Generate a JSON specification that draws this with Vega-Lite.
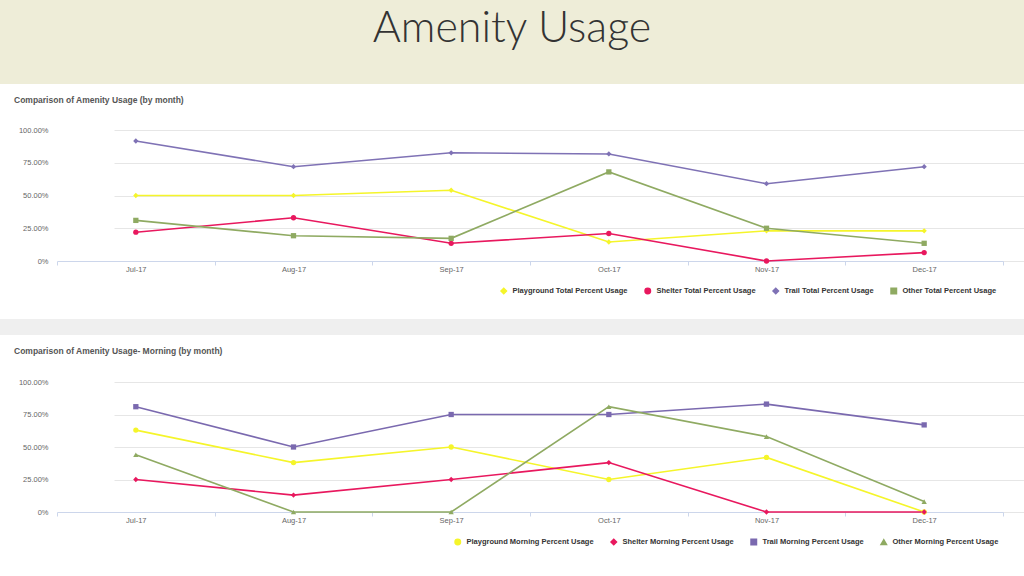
{
  "$schema": "https://vega.github.io/schema/vega-lite/v6.json",
  "padding": 0,
  "background": "#ffffff",
  "spacing": 11,
  "columns": 1,
  "align": "none",
  "resolve": {
    "scale": {"color": "independent", "shape": "independent", "y": "independent", "x": "independent"},
    "legend": {"color": "independent", "shape": "independent"}
  },
  "datasets": {
    "total": [
      {"month": "Jul-17", "series": "Playground Total Percent Usage", "value": 50},
      {"month": "Aug-17", "series": "Playground Total Percent Usage", "value": 50},
      {"month": "Sep-17", "series": "Playground Total Percent Usage", "value": 54},
      {"month": "Oct-17", "series": "Playground Total Percent Usage", "value": 14.5},
      {"month": "Nov-17", "series": "Playground Total Percent Usage", "value": 23},
      {"month": "Dec-17", "series": "Playground Total Percent Usage", "value": 23},
      {"month": "Jul-17", "series": "Shelter Total Percent Usage", "value": 22},
      {"month": "Aug-17", "series": "Shelter Total Percent Usage", "value": 33},
      {"month": "Sep-17", "series": "Shelter Total Percent Usage", "value": 13.5},
      {"month": "Oct-17", "series": "Shelter Total Percent Usage", "value": 21},
      {"month": "Nov-17", "series": "Shelter Total Percent Usage", "value": 0},
      {"month": "Dec-17", "series": "Shelter Total Percent Usage", "value": 6.4},
      {"month": "Jul-17", "series": "Trail Total Percent Usage", "value": 91.6},
      {"month": "Aug-17", "series": "Trail Total Percent Usage", "value": 72},
      {"month": "Sep-17", "series": "Trail Total Percent Usage", "value": 82.6},
      {"month": "Oct-17", "series": "Trail Total Percent Usage", "value": 81.7},
      {"month": "Nov-17", "series": "Trail Total Percent Usage", "value": 59},
      {"month": "Dec-17", "series": "Trail Total Percent Usage", "value": 72},
      {"month": "Jul-17", "series": "Other Total Percent Usage", "value": 31},
      {"month": "Aug-17", "series": "Other Total Percent Usage", "value": 19.3},
      {"month": "Sep-17", "series": "Other Total Percent Usage", "value": 17.3},
      {"month": "Oct-17", "series": "Other Total Percent Usage", "value": 68},
      {"month": "Nov-17", "series": "Other Total Percent Usage", "value": 25},
      {"month": "Dec-17", "series": "Other Total Percent Usage", "value": 13.5}
    ],
    "morning": [
      {"month": "Jul-17", "series": "Playground Morning Percent Usage", "value": 63},
      {"month": "Aug-17", "series": "Playground Morning Percent Usage", "value": 38},
      {"month": "Sep-17", "series": "Playground Morning Percent Usage", "value": 50},
      {"month": "Oct-17", "series": "Playground Morning Percent Usage", "value": 25},
      {"month": "Nov-17", "series": "Playground Morning Percent Usage", "value": 42},
      {"month": "Dec-17", "series": "Playground Morning Percent Usage", "value": 0},
      {"month": "Jul-17", "series": "Shelter Morning Percent Usage", "value": 25},
      {"month": "Aug-17", "series": "Shelter Morning Percent Usage", "value": 13},
      {"month": "Sep-17", "series": "Shelter Morning Percent Usage", "value": 25},
      {"month": "Oct-17", "series": "Shelter Morning Percent Usage", "value": 38},
      {"month": "Nov-17", "series": "Shelter Morning Percent Usage", "value": 0},
      {"month": "Dec-17", "series": "Shelter Morning Percent Usage", "value": 0},
      {"month": "Jul-17", "series": "Trail Morning Percent Usage", "value": 81},
      {"month": "Aug-17", "series": "Trail Morning Percent Usage", "value": 50},
      {"month": "Sep-17", "series": "Trail Morning Percent Usage", "value": 75},
      {"month": "Oct-17", "series": "Trail Morning Percent Usage", "value": 75},
      {"month": "Nov-17", "series": "Trail Morning Percent Usage", "value": 83},
      {"month": "Dec-17", "series": "Trail Morning Percent Usage", "value": 67},
      {"month": "Jul-17", "series": "Other Morning Percent Usage", "value": 44},
      {"month": "Aug-17", "series": "Other Morning Percent Usage", "value": 0},
      {"month": "Sep-17", "series": "Other Morning Percent Usage", "value": 0},
      {"month": "Oct-17", "series": "Other Morning Percent Usage", "value": 81},
      {"month": "Nov-17", "series": "Other Morning Percent Usage", "value": 58},
      {"month": "Dec-17", "series": "Other Morning Percent Usage", "value": 8}
    ]
  },
  "concat": [
    {
      "width": 1024,
      "height": 84,
      "view": {"fill": "#EEEDD8", "stroke": null},
      "data": {"values": [{"label": "Amenity Usage"}]},
      "mark": {"type": "text", "font": "Lato", "fontWeight": 300, "fontSize": 43, "color": "#333333", "dy": -13, "baseline": "middle", "align": "center"},
      "encoding": {"text": {"field": "label", "type": "nominal"}}
    },
    {
      "width": 1024,
      "height": 131,
      "title": {"text": "Comparison of Amenity Usage (by month)", "anchor": "start", "frame": "group", "dx": 14, "offset": 22, "fontSize": 8.5, "fontWeight": "bold", "color": "#555555", "font": "Liberation Sans"},
      "data": {"name": "total"},
      "encoding": {
        "x": {"field": "month", "type": "ordinal", "sort": ["Jul-17", "Aug-17", "Sep-17", "Oct-17", "Nov-17", "Dec-17"], "scale": {"type": "band", "paddingInner": 0, "paddingOuter": 0, "range": [57, 1003]}},
        "y": {"field": "value", "type": "quantitative", "scale": {"domain": [0, 100], "nice": false}, "axis": {"values": [0, 25, 50, 75, 100]}},
        "color": {"field": "series", "type": "nominal",
          "scale": {"domain": ["Playground Total Percent Usage", "Shelter Total Percent Usage", "Trail Total Percent Usage", "Other Total Percent Usage"], "range": ["#F5F52A", "#E8185E", "#7F72B5", "#8FAA62"]},
          "legend": {"orient": "none", "legendX": 489, "legendY": 146, "padding": 11, "direction": "horizontal", "columns": 4, "title": null}}
      },
      "layer": [
        {"mark": {"type": "line", "strokeWidth": 1.6}},
        {"mark": {"type": "point", "filled": true, "size": 28, "opacity": 1},
         "encoding": {"shape": {"field": "series", "type": "nominal",
           "scale": {"domain": ["Playground Total Percent Usage", "Shelter Total Percent Usage", "Trail Total Percent Usage", "Other Total Percent Usage"], "range": ["diamond", "circle", "diamond", "square"]},
           "legend": {"orient": "none", "legendX": 489, "legendY": 146, "padding": 11, "direction": "horizontal", "columns": 4, "title": null}}}}
      ]
    },
    {
      "width": 1024,
      "height": 16,
      "view": {"fill": "#EFEFEF", "stroke": null},
      "data": {"values": [{"label": ""}]},
      "mark": {"type": "text"},
      "encoding": {"text": {"field": "label", "type": "nominal"}}
    },
    {
      "width": 1024,
      "height": 130,
      "title": {"text": "Comparison of Amenity Usage- Morning (by month)", "anchor": "start", "frame": "group", "dx": 14, "offset": 23, "fontSize": 8.5, "fontWeight": "bold", "color": "#555555", "font": "Liberation Sans"},
      "data": {"name": "morning"},
      "encoding": {
        "x": {"field": "month", "type": "ordinal", "sort": ["Jul-17", "Aug-17", "Sep-17", "Oct-17", "Nov-17", "Dec-17"], "scale": {"type": "band", "paddingInner": 0, "paddingOuter": 0, "range": [57, 1003]}},
        "y": {"field": "value", "type": "quantitative", "scale": {"domain": [0, 100], "nice": false}, "axis": {"values": [0, 25, 50, 75, 100]}},
        "color": {"field": "series", "type": "nominal",
          "scale": {"domain": ["Playground Morning Percent Usage", "Shelter Morning Percent Usage", "Trail Morning Percent Usage", "Other Morning Percent Usage"], "range": ["#F5F52A", "#E8185E", "#7A69AF", "#8FAA62"]},
          "legend": {"orient": "none", "legendX": 443, "legendY": 145, "padding": 11, "direction": "horizontal", "columns": 4, "title": null}}
      },
      "layer": [
        {"mark": {"type": "line", "strokeWidth": 1.6}},
        {"mark": {"type": "point", "filled": true, "size": 28, "opacity": 1},
         "encoding": {"shape": {"field": "series", "type": "nominal",
           "scale": {"domain": ["Playground Morning Percent Usage", "Shelter Morning Percent Usage", "Trail Morning Percent Usage", "Other Morning Percent Usage"], "range": ["circle", "diamond", "square", "triangle-up"]},
           "legend": {"orient": "none", "legendX": 443, "legendY": 145, "padding": 11, "direction": "horizontal", "columns": 4, "title": null}}}}
      ]
    }
  ],
  "config": {
    "font": "Liberation Sans",
    "view": {"stroke": null},
    "axisX": {"title": null, "labelAngle": 0, "labelFontSize": 7.5, "labelColor": "#666666", "domainColor": "#CCD6EB", "tickColor": "#CCD6EB", "tickSize": 4, "tickBand": "extent", "labelPadding": 0, "grid": false},
    "axisY": {"title": null, "offset": -57, "labelExpr": "datum.value === 0 ? '0%' : format(datum.value, '.2f') + '%'", "labelFontSize": 7.5, "labelColor": "#666666", "grid": true, "gridColor": "#E6E6E6", "domain": false, "ticks": false, "labelPadding": 9},
    "legend": {"labelFontSize": 7.5, "labelFontWeight": "bold", "labelColor": "#333333", "symbolSize": 30, "labelOffset": 5, "columnPadding": 14, "symbolStrokeWidth": 1.5}
  }
}
